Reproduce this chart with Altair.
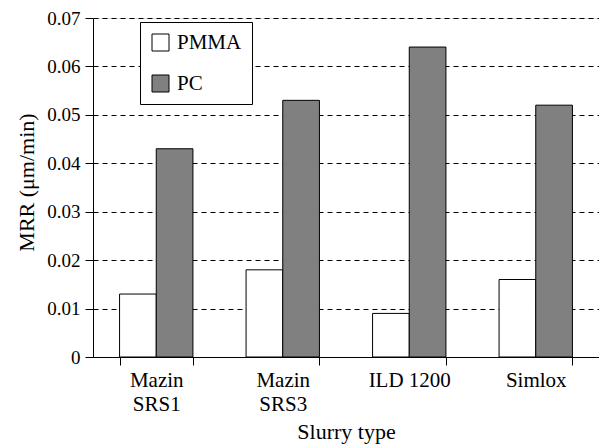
import altair as alt
import pandas as pd

slurries = ["Mazin SRS1", "Mazin SRS3", "ILD 1200", "Simlox"]
series = ["PMMA", "PC"]
pmma = [0.013, 0.018, 0.009, 0.016]
pc = [0.043, 0.053, 0.064, 0.052]
y_ticks = [0, 0.01, 0.02, 0.03, 0.04, 0.05, 0.06, 0.07]
colors = ["#ffffff", "#808080"]

rows = []
for s, a, b in zip(slurries, pmma, pc):
    rows.append({"slurry": s, "material": "PMMA", "mrr": a})
    rows.append({"slurry": s, "material": "PC", "mrr": b})
df = pd.DataFrame(rows)

FONT = "Liberation Serif, Times New Roman, serif"
NB = "\u00a0"
PAD = NB * 7

chart = alt.Chart(df).mark_bar(stroke="black", strokeWidth=1).encode(
    x=alt.X(
        "slurry:N",
        sort=slurries,
        title="Slurry type",
        scale=alt.Scale(paddingInner=0.42, paddingOuter=0.21),
        axis=alt.Axis(
            labelAngle=0,
            tickBand="extent",
            tickSize=8,
            tickColor="black",
            domainColor="black",
            labelColor="black",
            labelFont=FONT,
            labelFontSize=21,
            labelLineHeight=24,
            labelPadding=4,
            labelExpr="indexof(datum.label, 'Mazin') == 0 ? split(datum.label, ' ') : datum.label",
            titleFont=FONT,
            titleFontSize=22,
            titleFontWeight="normal",
            titleColor="black",
            titlePadding=7,
            grid=False,
        ),
    ),
    xOffset=alt.XOffset("material:N", sort=series, scale=alt.Scale(paddingInner=0, paddingOuter=0)),
    y=alt.Y(
        "mrr:Q",
        title="MRR (μm/min)",
        scale=alt.Scale(domain=[0, 0.07], nice=False, zero=True),
        axis=alt.Axis(
            values=y_ticks,
            labelExpr="datum.value == 0 ? '0' : format(datum.value, '.2f')",
            tickSize=8,
            tickColor="black",
            domainColor="black",
            labelColor="black",
            labelFont=FONT,
            labelFontSize=19,
            labelPadding=5,
            grid=True,
            gridColor="black",
            gridDash=[5, 4],
            gridWidth=1,
            titleFont=FONT,
            titleFontSize=22,
            titleFontWeight="normal",
            titleColor="black",
            titlePadding=8,
            titleY=164,
        ),
    ),
    fill=alt.Fill(
        "material:N",
        sort=series,
        scale=alt.Scale(domain=series, range=colors),
        legend=alt.Legend(
            title=None,
            orient="none",
            legendX=47,
            legendY=4,
            fillColor="white",
            strokeColor="black",
            padding=10,
            rowPadding=19,
            symbolType="square",
            symbolSize=289,
            symbolStrokeColor="black",
            symbolStrokeWidth=1,
            symbolOpacity=1,
            labelFont=FONT,
            labelFontSize=21,
            labelColor="black",
            labelOffset=6,
            labelExpr=f"datum.label + '{PAD}'",
        ),
    ),
).properties(
    width=506,
    height=339,
    autosize=alt.AutoSizeParams(type="none"),
    padding={"left": 85, "top": 10, "right": 0, "bottom": 88},
).configure_view(
    stroke="black",
    strokeWidth=1,
).configure(
    background="white",
)

chart.save("out.html", embed_options={"renderer": "svg", "actions": False})
